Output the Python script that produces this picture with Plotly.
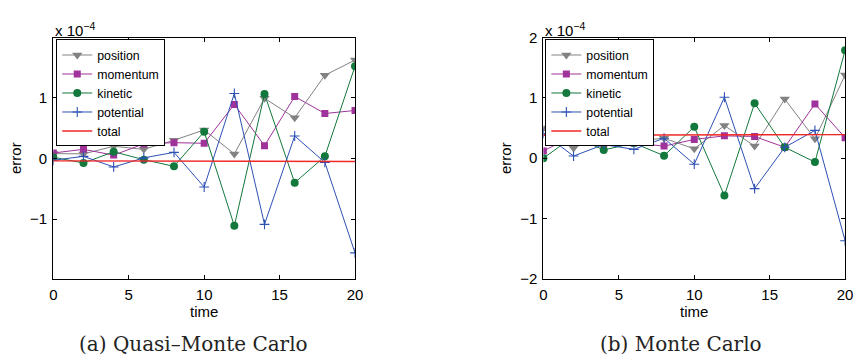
import plotly.graph_objects as go

# Sampling times
time = [0, 2, 4, 6, 8, 10, 12, 14, 16, 18, 20]

# (a) Quasi-Monte Carlo errors, in units of 1e-4
qmc_position = [0.08, 0.075, 0.20, 0.15, 0.30, 0.47, 0.075, 0.99, 0.67, 1.37, 1.62]
qmc_momentum = [0.09, 0.15, 0.055, 0.24, 0.26, 0.25, 0.89, 0.21, 1.02, 0.74, 0.79]
qmc_kinetic = [0.02, -0.075, 0.11, -0.02, -0.13, 0.44, -1.11, 1.06, -0.40, 0.035, 1.52]
qmc_potential = [-0.03, 0.035, -0.14, 0.01, 0.10, -0.47, 1.07, -1.085, 0.37, -0.065, -1.555]
qmc_total = [-0.04, -0.041, -0.042, -0.043, -0.044, -0.045, -0.046, -0.047, -0.048, -0.049, -0.05]

# (b) Monte Carlo errors, in units of 1e-4
mc_position = [0.50, 0.17, 0.39, 0.28, 0.33, 0.155, 0.54, 0.20, 0.98, 0.32, 1.38]
mc_momentum = [0.12, 0.37, 0.235, 0.25, 0.20, 0.31, 0.37, 0.36, 0.18, 0.90, 0.34]
mc_kinetic = [0.00, 0.36, 0.135, 0.25, 0.04, 0.52, -0.62, 0.91, 0.18, -0.065, 1.79]
mc_potential = [0.41, 0.035, 0.225, 0.146, 0.33, -0.10, 1.01, -0.505, 0.18, 0.46, -1.37]
mc_total = [0.38, 0.381, 0.382, 0.383, 0.384, 0.385, 0.386, 0.387, 0.388, 0.389, 0.39]

series_names = ["position", "momentum", "kinetic", "potential", "total"]
x_ticks = [0, 5, 10, 15, 20]

styles = {
    "position": dict(color="rgb(130,130,130)", symbol="triangle-down", size=9),
    "momentum": dict(color="rgb(160,50,155)", symbol="square", size=7),
    "kinetic": dict(color="rgb(18,120,60)", symbol="circle", size=8),
    "potential": dict(color="rgb(45,80,180)", symbol="cross-thin", size=7),
    "total": dict(color="rgb(240,40,40)", symbol=None, size=0),
}

panels = [
    dict(data=[qmc_position, qmc_momentum, qmc_kinetic, qmc_potential, qmc_total],
         xdom=[50 / 861, 356 / 861], yrange=[-1.98, 1.99], yticks=[-1, 0, 1],
         caption="(a) Quasi–Monte Carlo", cap_x=192),
    dict(data=[mc_position, mc_momentum, mc_kinetic, mc_potential, mc_total],
         xdom=[547 / 861, 853 / 861], yrange=[-2, 2], yticks=[-2, -1, 0, 1, 2],
         caption="(b) Monte Carlo", cap_x=687),
]

ydom = [1 - 283 / 362, 1 - 30 / 362]
W, H = 861, 362
sans = "Liberation Sans, Arial, sans-serif"

fig = go.Figure()
annotations = []
for i, p in enumerate(panels):
    ax = "" if i == 0 else str(i + 1)
    for name, vals in zip(series_names, p["data"]):
        st = styles[name]
        trace = dict(
            x=time, y=vals, name=name,
            xaxis="x" + ax, yaxis="y" + ax,
            legend="legend" if i == 0 else "legend2",
            line=dict(color=st["color"], width=1),
        )
        if st["symbol"]:
            trace["mode"] = "lines+markers"
            mk = dict(symbol=st["symbol"], size=st["size"], color=st["color"])
            if st["symbol"] == "cross-thin":
                mk["line"] = dict(color=st["color"], width=1.1)
            trace["marker"] = mk
        else:
            trace["mode"] = "lines"
            trace["line"]["width"] = 1.4
        fig.add_trace(go.Scatter(**trace))

    axis_common = dict(
        showline=True, linecolor="black", linewidth=1.2, mirror="ticks",
        ticks="inside", ticklen=4, tickcolor="black", showgrid=False,
        zeroline=False, tickfont=dict(family=sans, size=15, color="black"),
    )
    fig.layout["xaxis" + ax] = dict(
        domain=p["xdom"], range=[0, 20], tickvals=x_ticks,
        anchor="y" + ax, ticklabelstandoff=2,
        title=dict(text="time", font=dict(family=sans, size=15, color="black"), standoff=0),
        **axis_common,
    )
    fig.layout["yaxis" + ax] = dict(
        domain=ydom, range=p["yrange"], tickvals=p["yticks"],
        anchor="x" + ax, ticklabelstandoff=2,
        title=dict(text="error", font=dict(family=sans, size=15, color="black"), standoff=4),
        **axis_common,
    )
    x0 = p["xdom"][0]
    annotations.append(dict(
        x=x0, y=1 - 22 / 362, xref="paper", yref="paper",
        xanchor="left", yanchor="middle", showarrow=False,
        text="x 10<sup>−4</sup>", font=dict(family=sans, size=15, color="black"),
    ))
    annotations.append(dict(
        x=p["cap_x"] / W, y=1 - 351 / 362, xref="paper", yref="paper",
        xanchor="center", yanchor="middle", showarrow=False,
        text=p["caption"], font=dict(family="DejaVu Serif, serif", size=20, color="rgb(35,35,35)"),
    ))

legend_common = dict(
    bgcolor="white", bordercolor="black", borderwidth=1,
    font=dict(family=sans, size=12.3, color="black"),
    xanchor="left", yanchor="top", itemwidth=30, tracegroupgap=0,
)
fig.update_layout(
    width=W, height=H, margin=dict(l=0, r=0, t=0, b=0),
    paper_bgcolor="white", plot_bgcolor="white",
    showlegend=True,
    legend=dict(x=53 / W, y=1 - 32 / H, **legend_common),
    legend2=dict(x=549 / W, y=1 - 32 / H, **legend_common),
    annotations=annotations,
)

fig.write_html("out.html")
